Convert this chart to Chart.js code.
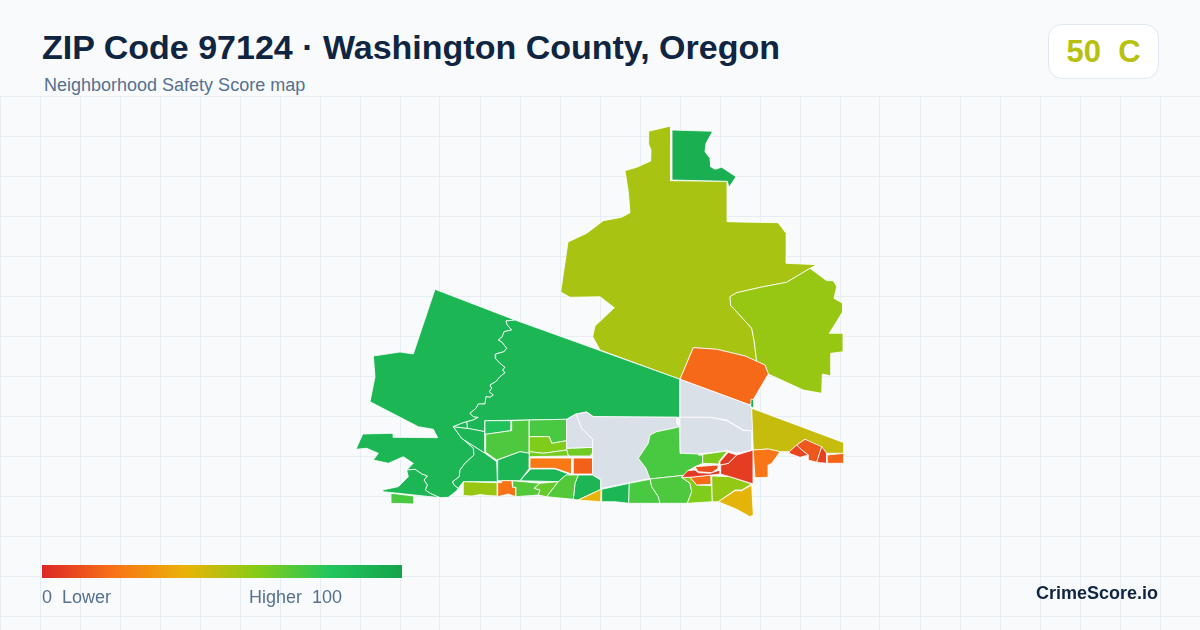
<!DOCTYPE html>
<html>
  <head>
    <meta charset="utf-8">
    <title>ZIP Code 97124 · Washington County, Oregon</title>
    <script src="https://cdn.jsdelivr.net/npm/chart.js"></script>
    <style>
      html, body { margin: 0; padding: 0; }
      body {
        width: 1200px;
        height: 630px;
        position: relative;
        overflow: hidden;
        background: #f8fafc;
        font-family: "Liberation Sans", Arial, sans-serif;
      }
      #mapChart { position: absolute; left: 0; top: 96px; }
      .txt { position: absolute; white-space: pre; line-height: 1; }
      #title { left: 42px; top: 30px; font-size: 34px; font-weight: 700; color: #0f2541; }
      #subtitle { left: 44px; top: 76px; font-size: 18px; color: #56708f; }
      #badge {
        position: absolute; left: 1048px; top: 24px; width: 109px; height: 53px;
        background: #fff; border: 1px solid #e2e8f0; border-radius: 14px;
        color: #b7bf0f; font-size: 31px; font-weight: 700; line-height: 53px; text-align: center;
        white-space: pre;
      }
      #legendBar {
        position: absolute; left: 42px; top: 565px; width: 360px; height: 13px;
        background: linear-gradient(90deg, #dc2626 0%, #f97316 20%, #eab308 40%, #84cc16 60%, #22c55e 80%, #16a34a 100%);
      }
      .legendTxt { top: 588px; font-size: 18px; color: #56708f; }
      #brand { left: 1036px; top: 584px; font-size: 18px; font-weight: 700; color: #0f2541; }
    </style>
  </head>
  <body>
    <canvas id="mapChart" width="1200" height="534"></canvas>
    <div id="title" class="txt">ZIP Code 97124 · Washington County, Oregon</div>
    <div id="subtitle" class="txt">Neighborhood Safety Score map</div>
    <div id="badge">50  C</div>
    <div id="legendBar"></div>
    <div class="txt legendTxt" style="left:42px">0  Lower</div>
    <div class="txt legendTxt" style="left:249px">Higher  100</div>
    <div id="brand" class="txt">CrimeScore.io</div>

    <script>
      // Axis ticks, these give the faint grid
      const xTicks = [0, 40, 80, 120, 160, 200, 240, 280, 320, 360, 400, 440, 480, 520, 560, 600, 640, 680, 720, 760, 800, 840, 880, 920, 960, 1000, 1040, 1080, 1120, 1160, 1200];
      const yTicks = [96, 136, 176, 216, 256, 296, 336, 376, 416, 456, 496, 536, 576, 616];

      // Colour scale of the score (0 to 100)
      const scaleScores = [0, 20, 40, 60, 80, 100];
      const scaleColors = [[220, 38, 38], [249, 115, 22], [234, 179, 8], [132, 204, 22], [34, 197, 94], [22, 163, 74]];
      const noDataColor = '#d9e0e8';

      // Neighborhood scores, null is no data
      const regionScores = [
        53, 93, 56, 17.5, 93,
        89, 89, 89, 89, 89, 89,
        82, 71, 72, 61, 64, 63, 22, 15,
        89, 89, 89,
        null, null, null, null,
        72, 72,
        56, 20, 70, 66, 70, 40, 89, 72, 71, 61, 18, 57, 41,
        6, 10, 5, 5, 62,
        47, 21, 13, 8, 7, 16
      ];

      // Neighborhood outlines, [x, y] in map units, same order as the scores
      const regionOutlines = [
        // north, notch, east, central orange, sliver
        [[648.7,131.3],[670.7,126],[670.7,180.7],[727.3,181.3],[727.3,221.7],[751.7,222.3],[778,222.7],[786.7,234],[786.3,263.3],[816.7,264.7],[810,268.3],[786.7,282.3],[763.3,286.7],[736.7,292.7],[730,296.7],[730.7,305.3],[743.3,319],[751.7,328.3],[754,340],[756.7,361.7],[745,356],[716.7,349.3],[693.3,347.7],[680,379.3],[600,350],[592.7,336.7],[595,326],[606.7,315],[614.3,307.7],[600,296.7],[570,297.3],[560.7,292],[568,242],[586.7,233.3],[603.3,220.7],[621.7,217.3],[630,212.7],[628.3,191.7],[625,170.7],[636.7,167.3],[650.7,161],[651,150],[648.3,143.3]],
        [[672,130],[712.7,131.3],[706,143.3],[705,151.7],[710,158.3],[710.7,166.7],[715,169.3],[721.7,167.3],[736,176.7],[729,187.3],[727.3,181.3],[672,180]],
        [[810,268.3],[826.7,280.7],[833.3,280.7],[836.7,286.7],[834,298.3],[842.7,303.3],[842.7,311.7],[829.3,333.3],[843.3,333.3],[843.3,351.7],[831,353.3],[831,376],[822.3,374],[821.7,393.3],[803.3,390],[768.3,374],[765,365],[756.7,361.7],[754,340],[751.7,328.3],[743.3,319],[730.7,305.3],[730,296.7],[736.7,292.7],[763.3,286.7],[786.7,282.3]],
        [[693.3,347.7],[716.7,349.3],[745,356],[765,365],[768.3,374],[750,405],[680,379.3]],
        [[751,399],[754,400],[754,408],[750.7,406.7]],
        // west side, split by the creek
        [[435,289.3],[515,320],[506,321],[507.3,325],[511.7,330],[504,331.7],[502.3,336.7],[498.3,340],[501.7,341.7],[506.7,348.3],[504,351.7],[495.7,354],[495.3,358.3],[500,363.3],[505,367.3],[502.7,370],[505,372.7],[500,376.7],[495.7,381.7],[490,385],[491.7,388.3],[489.3,391.7],[493.3,395],[490,397.3],[486,396.7],[485,404],[478.3,404],[476,408.3],[470,413.3],[473.3,416.7],[478.3,417.3],[473.3,420],[466.7,421.7],[461.7,423.3],[453.3,426.7],[461.7,438.3],[465,440.7],[473.3,448.3],[474,455],[465,463.3],[460,470],[459.3,476.7],[452.7,481.7],[454,485],[458.3,488.3],[456.7,490.7],[448.3,497.3],[440,497.7],[430,493.3],[425.3,490],[427.3,485],[424,480],[427.3,476],[421.7,474],[415,469.3],[406.7,470],[413.3,463.3],[403.3,456.7],[388.3,463.3],[373.3,460],[378.3,453.3],[366.7,448.3],[356,449.3],[362.7,434],[393.3,433.3],[393.3,437.3],[437.7,437.7],[433.3,429.3],[418.3,426.7],[370,401.7],[375,376.7],[373.3,356],[400,352],[413.3,354]],
        [[515,320],[680,379.3],[680,417.3],[593.3,416.7],[586.7,412],[576,414],[566.7,419.3],[485,420.7],[485,431.7],[467.3,428.3],[466.7,421.7],[473.3,420],[478.3,417.3],[473.3,416.7],[470,413.3],[476,408.3],[478.3,404],[485,404],[486,396.7],[490,397.3],[493.3,395],[489.3,391.7],[491.7,388.3],[490,385],[495.7,381.7],[500,376.7],[505,372.7],[502.7,370],[505,367.3],[500,363.3],[495.3,358.3],[495.7,354],[504,351.7],[506.7,348.3],[501.7,341.7],[498.3,340],[502.3,336.7],[504,331.7],[511.7,330],[507.3,325],[506,321]],
        [[406.7,470],[415,469.3],[421.7,474],[427.3,476],[424,480],[427.3,485],[425.3,490],[430,493.3],[440,497.7],[383.3,491.7],[382.7,490],[398.3,486.7],[408.3,476.7]],
        [[453.3,426.7],[467.3,428.3],[485,431.7],[485,453.3],[465,440.7],[461.7,438.3]],
        [[465,440.7],[485,453.3],[496.7,461.7],[497.3,481.7],[463.3,481.7],[458.3,488.3],[454,485],[452.7,481.7],[459.3,476.7],[460,470],[465,463.3],[474,455],[473.3,448.3]],
        [[466.7,421.7],[467.3,428.3],[453.3,426.7],[461.7,423.3]],
        // cells north of the highway
        [[485,420.7],[511.7,420.7],[511,430.7],[485.7,434.3]],
        [[511.7,420.7],[529.3,420],[529.3,453.3],[520,451.7],[496.7,460],[485,451.7],[485.7,434.3],[511,430.7]],
        [[529.3,420],[566.7,419.3],[566.7,440.7],[551.7,443.3],[549.3,436.7],[529.3,436.7]],
        [[529.3,436.7],[549.3,436.7],[551.7,443.3],[566.7,440.7],[566.7,450],[543.3,453.3],[529.3,451.7]],
        [[566.7,448.3],[592.7,447.3],[592.7,452.7],[590,456],[568.3,456],[566.7,450]],
        [[529.3,451.7],[543.3,453.3],[566.7,450],[568.3,456],[529.3,456.7]],
        [[530,458],[571.7,458],[571.7,474],[555,468.3],[530,468.3]],
        [[573.3,458],[592.7,458],[592.7,474],[573.3,474]],
        [[530.7,469],[555,469],[571.7,475],[566,475],[558.3,481.7],[520,480.7]],
        [[497.7,460],[520,451.7],[529.3,453.3],[529.3,468.3],[520,480.7],[497.7,480.7]],
        [[578.3,475],[592.7,475],[601,480],[601,489.3],[578,500],[573.3,499.3],[575,483.3]],
        // no data blocks
        [[566.7,419.3],[576,414],[581.7,428.3],[592.7,439.3],[592.7,447.3],[566.7,448.3]],
        [[576,414],[586.7,412],[593.3,416.7],[677,417.3],[677,424],[679.3,426.7],[673.3,428.3],[656.7,431.7],[650,435],[648.3,443.3],[638.3,458.3],[646,468.3],[650.7,478.3],[630,482.7],[601.7,488.3],[601,480],[592.7,475],[592.7,439.3],[581.7,428.3]],
        [[680,379.3],[750,405],[752,410],[752.7,430.7],[743.3,430],[726.7,420],[710,417.3],[680,417.3]],
        [[680,417.3],[710,417.3],[726.7,420.7],[743.3,430.7],[752.7,430.7],[752,450],[736.7,453.3],[727.3,450.7],[698.3,454],[680,453.3]],
        // small green pieces
        [[391,493.3],[414,496],[414,504],[391,503.3]],
        [[679.3,426.7],[680,453.3],[698.3,454],[702.7,455],[702.7,463.3],[695,466.7],[687.7,470.7],[686.7,475],[650,479],[646,468.3],[638.3,458.3],[648.3,443.3],[650,435],[656.7,431.7],[673.3,428.3]],
        // south row, west to east
        [[463.3,481.7],[497.3,482.7],[497.3,496],[488,495.5],[480,494.5],[472,496],[463.3,495.5]],
        [[497.7,482.7],[501.7,482.7],[501.7,480.7],[511.7,480.7],[512.7,487.3],[516,487.3],[516,496.7],[508.3,494],[497.7,496.7]],
        [[512.7,480.7],[540,483.3],[534,488.3],[540,490],[538.3,495],[528.3,495.7],[516,496.7],[516,487.3],[512.7,487.3]],
        [[540,483.3],[558.3,481.7],[546.7,496.7],[538.3,495],[540,490],[534,488.3]],
        [[566,475],[578.3,475],[575,483.3],[573.3,499.3],[546.7,496.7],[558.3,481.7]],
        [[601,489.3],[600.7,501.7],[578.3,500]],
        [[601.7,489.3],[629.3,483.3],[628.7,503.3],[615,501.7],[601.7,501.7]],
        [[629.3,483.3],[650,479.3],[651.7,486.7],[658.3,496.7],[660,503.3],[628.7,503.3]],
        [[650,479],[686.7,475],[681.7,477.3],[690,483.3],[691.7,491.7],[687.3,503.3],[660,503.3],[658.3,496.7],[651.7,486.7]],
        [[681.7,477.3],[690,477.3],[696.7,485],[711.7,485.7],[712.3,501.7],[687.3,503.3],[691.7,491.7],[690,483.3]],
        [[690,477.3],[710.7,475],[711,484.3],[696.7,485]],
        [[711.7,476],[730,476.7],[751.7,484],[741.7,490],[735,490],[718.3,501.7],[712.3,501.7]],
        [[751.7,485],[753.3,515],[750,516.7],[736.7,509.3],[718.3,501.7],[735,490.7],[741.7,490.7]],
        // red cluster
        [[753.3,450],[753.3,484],[730,476.7],[720,474],[720.7,465],[728.3,463.3],[736.7,455]],
        [[695,466.7],[718.3,465],[718.3,468.3],[711.7,472.7],[698.3,471.7]],
        [[687.7,470.7],[695,470],[698.3,472.7],[710,473.3],[720,470],[720,474],[711.7,475],[690,477.3],[681.7,477.3]],
        [[728.3,452.3],[736.7,455],[728.3,463.3],[720,465],[720,461.7]],
        [[698.3,455],[727.3,451],[719.3,461],[719.3,464],[702.7,463.3],[702.7,455]],
        // east arm
        [[751.7,408.3],[844,442.7],[844,453.3],[826.7,453.3],[820,448.3],[805,439.3],[796.7,445],[790,451.7],[780,451.7],[768.3,449],[753.3,450]],
        [[753.3,450],[768.3,449],[780,451.7],[771.7,463.3],[768.3,465],[768.3,477.3],[755,477.7],[754,463.3]],
        [[805,439.3],[821.7,446.7],[816.7,462.3],[808.3,460],[808.3,455],[801.7,450],[796.7,445]],
        [[789.3,451.7],[796.7,445],[801.7,450],[808.3,455],[800,457.3],[789.3,453.3]],
        [[821.7,446.7],[826.7,453.3],[826.7,463.3],[816.7,462.3]],
        [[827.3,455],[844,453.3],[844,463.3],[827.3,463.3]]
      ];

      // Score to colour, straight blend between the two nearest stops
      function scoreColor(score) {
        if (score === null) return noDataColor;
        let i = 0;
        while (i < scaleScores.length - 2 && score > scaleScores[i + 1]) i++;
        const t = (score - scaleScores[i]) / (scaleScores[i + 1] - scaleScores[i]);
        const rgb = scaleColors[i].map((c, k) => Math.round(c + (scaleColors[i + 1][k] - c) * t));
        return 'rgb(' + rgb.join(',') + ')';
      }

      // One closed filled line per neighborhood, later ones on top
      const datasets = regionOutlines.map((outline, i) => ({
        data: outline.concat([outline[0]]).map(p => ({ x: p[0], y: p[1] })),
        showLine: true,
        fill: 'shape',
        backgroundColor: scoreColor(regionScores[i]),
        borderColor: '#ffffff',
        borderWidth: 0.8,
        pointRadius: 0,
        tension: 0,
        order: regionOutlines.length - i
      }));

      const gridColor = '#e6eef3';

      new Chart(document.getElementById('mapChart').getContext('2d'), {
        type: 'scatter',
        data: { datasets: datasets },
        options: {
          responsive: false,
          animation: false,
          events: [],
          layout: { padding: 0 },
          plugins: { legend: { display: false }, tooltip: { enabled: false } },
          scales: {
            x: {
              type: 'linear', min: 0, max: 1200,
              afterBuildTicks: scale => { scale.ticks = xTicks.map(v => ({ value: v })); },
              ticks: { display: false },
              border: { display: false },
              grid: { color: gridColor, drawTicks: false }
            },
            y: {
              type: 'linear', min: 96, max: 630, reverse: true,
              afterBuildTicks: scale => { scale.ticks = yTicks.map(v => ({ value: v })); },
              ticks: { display: false },
              border: { display: false },
              grid: { color: gridColor, drawTicks: false }
            }
          }
        }
      });
    </script>
  </body>
</html>
